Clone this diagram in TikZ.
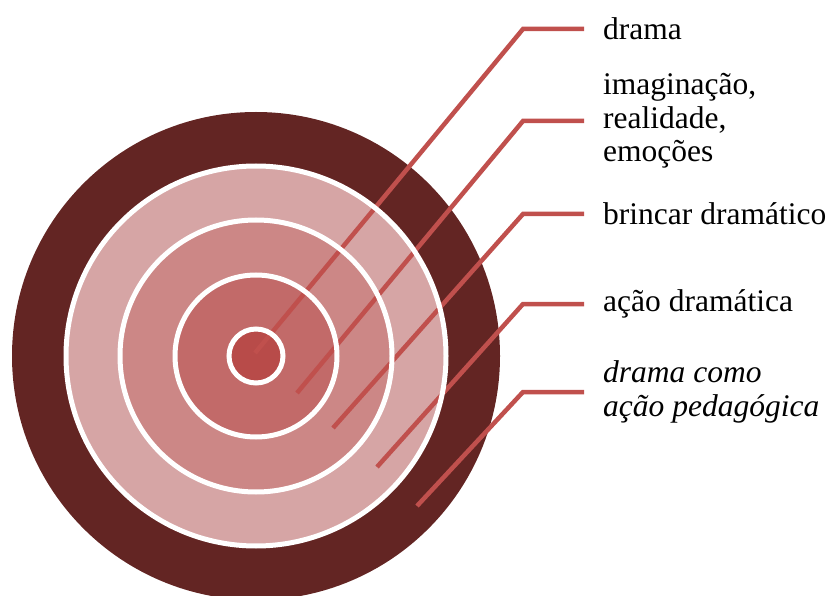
\documentclass[tikz,border=0pt]{standalone}
\usepackage{fontspec}
\setmainfont{Liberation Serif}
\definecolor{ringdark}{HTML}{632523}
\definecolor{ringa}{HTML}{D6A5A5}
\definecolor{ringb}{HTML}{CC8786}
\definecolor{ringc}{HTML}{C26A69}
\definecolor{ringd}{HTML}{B84B49}
\definecolor{leadred}{HTML}{C0504D}
\tikzset{
  leader/.style={draw=leadred, line width=4.5pt, shorten >=19pt},
  ringline/.style={draw=white, line width=5pt},
  lab/.style={anchor=west, inner sep=0pt, align=left,
    font=\fontsize{31.5}{33.5}\selectfont}
}
\begin{document}
\begin{tikzpicture}[x=1pt, y=-1pt]
    \useasboundingbox (0,0) rectangle (833,596);
    \coordinate (O) at (256,356);

    % Disques
    \fill[ringdark] (O) circle (244);
    \fill[ringa] (O) circle (190);
    \fill[ringb] (O) circle (136);
    \fill[ringc] (O) circle (81);
    \fill[ringd] (O) circle (27);

    % Etiquettes
    \node[lab] (lab1) at (603,29) {drama};
    \node[lab] (lab2) at (603,121) {imaginação,\\realidade,\\emoções};
    \node[lab] (lab3) at (603,214) {brincar dramático};
    \node[lab] (lab4) at (603,304) {ação dramática};
    \node[lab] (lab5) at (603,392) {\itshape drama como\\\itshape ação pedagógica};

    % Points de départ et coudes
    \coordinate (tip1) at (255,353);
    \coordinate (tip2) at (297,393);
    \coordinate (tip3) at (333,428);
    \coordinate (tip4) at (377,467);
    \coordinate (tip5) at (417,506);
    \foreach \i/\y in {1/29, 2/121, 3/214, 4/304, 5/392}
        \draw[leader] (tip\i) -- (523,\y) -- (lab\i.west);

    % Cercles blancs par-dessus
    \foreach \r in {190, 136, 81, 27}
        \draw[ringline] (O) circle (\r);
\end{tikzpicture}
\end{document}
